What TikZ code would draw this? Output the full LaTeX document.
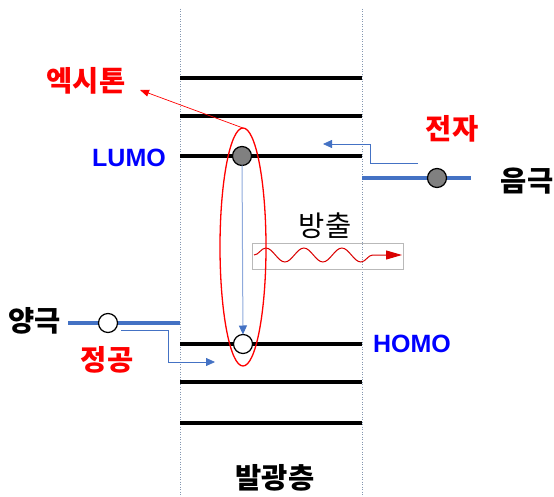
\documentclass[tikz,border=0pt]{standalone}
\usepackage{fontspec}
\setmainfont{Liberation Sans}
\newfontfamily\kr{Noto Sans CJK KR}
\usetikzlibrary{arrows.meta,shapes.geometric,decorations.pathmorphing}
\definecolor{obl}{HTML}{4472C4}
\definecolor{lbl}{HTML}{8FAADC}
\definecolor{dotc}{HTML}{8497B0}
\definecolor{bblue}{HTML}{0000FF}
\definecolor{bred}{HTML}{FF0000}
\begin{document}
\begin{tikzpicture}[x=1pt,y=-1pt,
  krlabel/.style={inner sep=0pt, font=\kr\fontsize{28.5}{32}\selectfont},
  krbold/.style={inner sep=0pt, font=\kr\bfseries\fontsize{28.5}{32}\selectfont},
  orblabel/.style={inner sep=0pt, text=bblue, font=\bfseries\fontsize{25}{29}\selectfont},
  level/.style={line width=4.5pt, black},
  layeredge/.style={dotc, line width=0.8pt, dash pattern=on 1pt off 1.5pt},
  electrode/.style={obl, line width=4.5pt},
  electron/.style={circle, draw=black, line width=1.2pt, fill=gray, minimum size=19pt, inner sep=0pt, outer sep=0pt},
  hole/.style={circle, draw=black, line width=1.2pt, fill=white, minimum size=19pt, inner sep=0pt, outer sep=0pt},
  flow/.style={obl, line width=0.8pt, -{Triangle[length=9pt,width=8pt]}},
]
\useasboundingbox (0,0) rectangle (554,497);

% layer edges
\draw[layeredge] (180,9) -- (180,497);
\draw[layeredge] (362,9) -- (362,497);

% energy levels
\foreach \yy in {78,116,156,344,382,423}
  \draw[level] (180,\yy) -- (362,\yy);

% electrodes
\draw[electrode] (362,178) -- (471,178);
\draw[electrode] (68,323) -- (180,323);

% emission box and wave
\node[draw=gray!55, line width=0.8pt, minimum width=151pt, minimum height=26pt, inner sep=0pt] (emit) at (327.5,256) {};
\coordinate (wavestart) at (254,255);
\coordinate (waveend) at (402,255);
\draw[bred!85!black, line width=1pt, decorate,
  decoration={snake, amplitude=7pt, segment length=38pt, post length=20pt},
  -{Triangle[length=16pt,width=9pt]}] (wavestart) -- (waveend);

% exciton ellipse
\node[ellipse, draw=bred, line width=1.3pt, minimum width=46pt, minimum height=238pt, inner sep=0pt, outer sep=0pt] (exc) at (243,247) {};

% carriers
\node[electron] (e) at (242,156) {};
\node[hole] (h) at (243,344) {};
\node[electron] (ce) at (437,178) {};
\node[hole] (ah) at (108,323) {};

% recombination arrow
\draw[lbl, line width=1pt, -{Triangle[length=9pt,width=8pt,fill=obl,color=obl]}] (e) -- (h);

% electron injection
\coordinate (einA) at (418,163);
\coordinate (einB) at (323,144);
\draw[flow] (einA) -- (370,163) -- (370,144) -- (einB);

% hole injection
\coordinate (hinA) at (121,330);
\coordinate (hinB) at (215,362);
\draw[flow] (hinA) -- (168,330) -- (168,362) -- (hinB);

% exciton pointer
\coordinate (excptr) at (140,90);
\draw[bred, line width=0.7pt, -{Triangle[length=9pt,width=7pt]}] (exc.north) -- (excptr);

% labels
\node[krbold, text=bred] (excl) at (86,81) {엑시톤};
\node[krbold, text=bred] (el) at (452,129) {전자};
\node[krbold, text=bred] (hl) at (107,360) {정공};
\node[krbold] (cath) at (527,181) {음극};
\node[krbold] (anod) at (35,321) {양극};
\node[krlabel] (eml) at (325,226) {방출};
\node[krbold] (layer) at (275,478) {발광층};
\node[orblabel] (lumo) at (129,158) {LUMO};
\node[orblabel] (homo) at (412,344) {HOMO};
\end{tikzpicture}
\end{document}
